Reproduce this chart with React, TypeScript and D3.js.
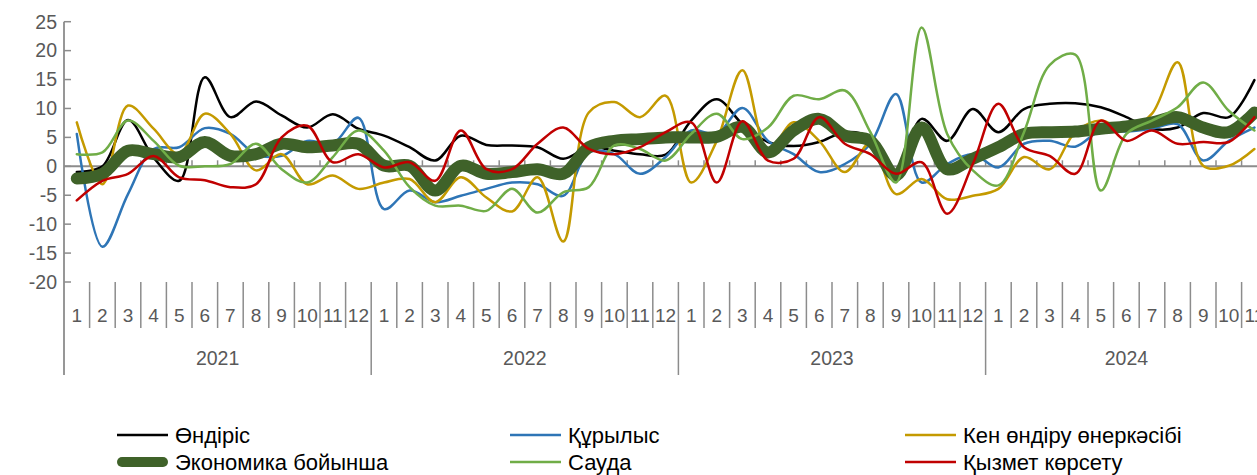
import React from 'react';
import * as d3 from 'd3';

// monthly data, Jan 2021 - Nov 2024
const years = ['2021', '2022', '2023', '2024'];
const monthsPerYear = [12, 12, 12, 11];

const ondiris = [
  -1, 0, 8, 1.5, -2.5, 15.4, 8.5, 11.2, 8.8, 6.7, 9.0, 6.5,
  5.3, 3.3, 1.0, 5.3, 3.7, 3.6, 3.3, 1.3, 3.3, 2.7, 2.1, 2.0,
  7.9, 11.6, 7.3, 4.2, 3.5, 4.2, 5.9, 5.0, -1, 8.2, 4.4, 9.9,
  5.9, 9.9, 10.8, 10.9, 10.2, 8.5, 6.5, 6.7, 9.2, 8.5, 14.9,
];
const qurylys = [
  5.6, -13.9, -4.8, 3.0, 3.3, 6.6, 5.6, 2.1, 1.8, 4.4, 3.9, 8.4,
  -7.4, -4.2, -6.2, -5.1, -3.9, -2.8, -3.1, -5.1, 2.4, 2.1, -1.3, 1.6,
  6.2, 5.6, 10.1, 4.4, 2.1, -1.0, 0.4, 3.9, 12.5, -2.8, 0.4, 2.1,
  -0.2, 3.9, 4.4, 3.4, 6.2, 6.0, 6.5, 7.3, 1.0, 4.4, 6.7,
];
const kenOndiru = [
  7.6, -3.1, 10.5, 6.5, 2.1, 9.1, 5.6, -0.7, 2.1, -3.1, -1.6, -3.9,
  -2.8, -2.2, -6.2, -1.9, -5.4, -7.8, -1.9, -13.0, 9.3, 11.1, 8.5, 12.2,
  -2.8, 4.4, 16.6, 2.7, 7.6, 4.4, -1.0, 4.0, -4.8, -2.2, -5.7, -5.1,
  -3.9, 1.6, -0.5, 5.9, 7.9, 6.2, 9.1, 18.0, 0.1, 0.1, 3.0,
];
const ekonomika = [
  -2.1, -1.3, 2.7, 2.1, 1.6, 4.2, 1.8, 2.1, 3.9, 3.3, 3.6, 3.9,
  0.1, 0.1, -4.2, 0.1, -1.3, -1.0, -0.5, -1.3, 3.3, 4.4, 4.7, 5.0,
  5.0, 5.1, 6.8, 2.4, 6.2, 8.2, 5.3, 4.4, -1.6, 6.7, -0.5, 1.3,
  3.3, 5.6, 5.9, 6.0, 6.5, 6.9, 7.6, 8.5, 6.7, 5.9, 9.3,
];
const sauda = [
  2.1, 2.4, 7.9, 4.4, 0.1, 0, 0.4, 3.9, -0.5, -2.8, 1.6, 6.2,
  2.7, -3.6, -6.8, -6.8, -7.7, -3.9, -8.0, -4.5, -3.6, 3.6, 3.0, 1.0,
  5.6, 9.1, 4.7, 6.7, 12.2, 11.6, 13.1, 5.9, -2.8, 24.0, 5.6, -0.7,
  -3.3, 5.9, 17.5, 19.3, -4.2, 5.6, 7.9, 10.2, 14.5, 9.6, 6.2,
];
const qyzmet = [
  -5.9, -2.5, -1.3, 1.8, -1.9, -2.4, -3.6, -3.1, 5.0, 7.0, 0.7, 2.1,
  -0.2, 0.7, -2.5, 6.2, -0.5, -0.5, 3.9, 6.7, 3.0, 2.1, 3.3, 5.9,
  7.6, -2.8, 7.8, 1.0, 1.3, 8.5, 3.9, 2.1, -1.3, 0.7, -8.2, 0.4,
  10.8, 3.3, 1.8, -1.3, 7.9, 4.4, 6.2, 3.9, 4.2, 4.2, 8.5,
];

const yTicks = [25, 20, 15, 10, 5, 0, -5, -10, -15, -20];

const series = [
  { name: 'Өндіріс', values: ondiris, color: '#000000', width: 2.5 },
  { name: 'Құрылыс', values: qurylys, color: '#2E75B6', width: 2.5 },
  { name: 'Кен өндіру өнеркәсібі', values: kenOndiru, color: '#C49A00', width: 2.5 },
  { name: 'Экономика бойынша', values: ekonomika, color: '#3F6229', width: 12 },
  { name: 'Сауда', values: sauda, color: '#70AD47', width: 2.5 },
  { name: 'Қызмет көрсету', values: qyzmet, color: '#C00000', width: 2.5 },
];

const W = 1257;
const H = 475;
const left = 64;
const step = 25.6;
const top = 21.7;
const bottom = 282;
const axisColor = '#8C8C8C';
const textColor = '#595959';
const font = '"Liberation Sans", Arial, sans-serif';

export default function App() {
  const labels: { m: string; y: number }[] = [];
  monthsPerYear.forEach((n, yi) => {
    for (let m = 1; m <= n; m++) labels.push({ m: String(m), y: yi });
  });
  const n = labels.length;

  const x = d3.scaleLinear().domain([0, n]).range([left, left + n * step]);
  const y = d3.scaleLinear().domain([-20, 25]).range([bottom, top]);

  const line = d3.line<number>()
    .x((_, i) => x(i + 0.5))
    .y(d => y(d))
    .curve(d3.curveCatmullRom.alpha(0.5));

  // boundaries of years in category units
  const yearStarts: number[] = [];
  let acc = 0;
  monthsPerYear.forEach(c => { yearStarts.push(acc); acc += c; });

  const legendCols = [117, 510, 905];
  const legendRows = [435, 462];

  return (
    <svg width={W} height={H} style={{ position: 'absolute', left: 0, top: 0 }}
         fontFamily={font}>
      <rect width={W} height={H} fill="#fff" />

      {/* y axis */}
      <line x1={left} x2={left} y1={top} y2={375} stroke={axisColor} strokeWidth={1.8} />
      {yTicks.map(t => (
        <g key={t}>
          <line x1={left} x2={left + 7} y1={y(t)} y2={y(t)} stroke={axisColor} strokeWidth={1.5} />
          <text x={57} y={y(t)} dy="0.35em" textAnchor="end" fontSize={19.5} fill={textColor}>{t}</text>
        </g>
      ))}

      {/* zero line with category ticks */}
      <line x1={left} x2={x(n)} y1={y(0)} y2={y(0)} stroke={axisColor} strokeWidth={2} />
      {d3.range(1, n + 1).map(i => (
        <line key={'zt' + i} x1={x(i)} x2={x(i)} y1={y(0)} y2={y(0) - 6} stroke={axisColor} strokeWidth={1.5} />
      ))}

      {/* month labels and separators */}
      {labels.map((l, i) => (
        <text key={'m' + i} x={x(i + 0.5)} y={315} dy="0.35em" textAnchor="middle"
              fontSize={19} fill={textColor}>{l.m}</text>
      ))}
      {d3.range(1, n + 1).map(i => {
        const isYear = yearStarts.includes(i) || i === n;
        return (
          <line key={'s' + i} x1={x(i)} x2={x(i)} y1={bottom} y2={isYear ? 375 : 328}
                stroke={axisColor} strokeWidth={1.5} />
        );
      })}
      {years.map((yr, yi) => (
        <text key={yr} x={x(yearStarts[yi] + monthsPerYear[yi] / 2)} y={358} dy="0.35em"
              textAnchor="middle" fontSize={19.5} fill={textColor}>{yr}</text>
      ))}

      {/* series */}
      {series.map(s => (
        <path key={s.name} d={line(s.values) || ''} fill="none" stroke={s.color}
              strokeWidth={s.width} strokeLinecap="round" strokeLinejoin="round" />
      ))}

      {/* legend */}
      {series.map((s, i) => {
        const cx = legendCols[i % 3];
        const cy = legendRows[Math.floor(i / 3)];
        const thick = s.width > 5;
        return (
          <g key={'lg' + i}>
            <line x1={cx + (thick ? 5 : 0)} x2={cx + 51 - (thick ? 5 : 0)} y1={cy} y2={cy}
                  stroke={s.color} strokeWidth={thick ? 10 : s.width}
                  strokeLinecap={thick ? 'round' : 'butt'} />
            <text x={cx + 58} y={cy} dy="0.35em" fontSize={22} fill="#000">{s.name}</text>
          </g>
        );
      })}
    </svg>
  );
}
